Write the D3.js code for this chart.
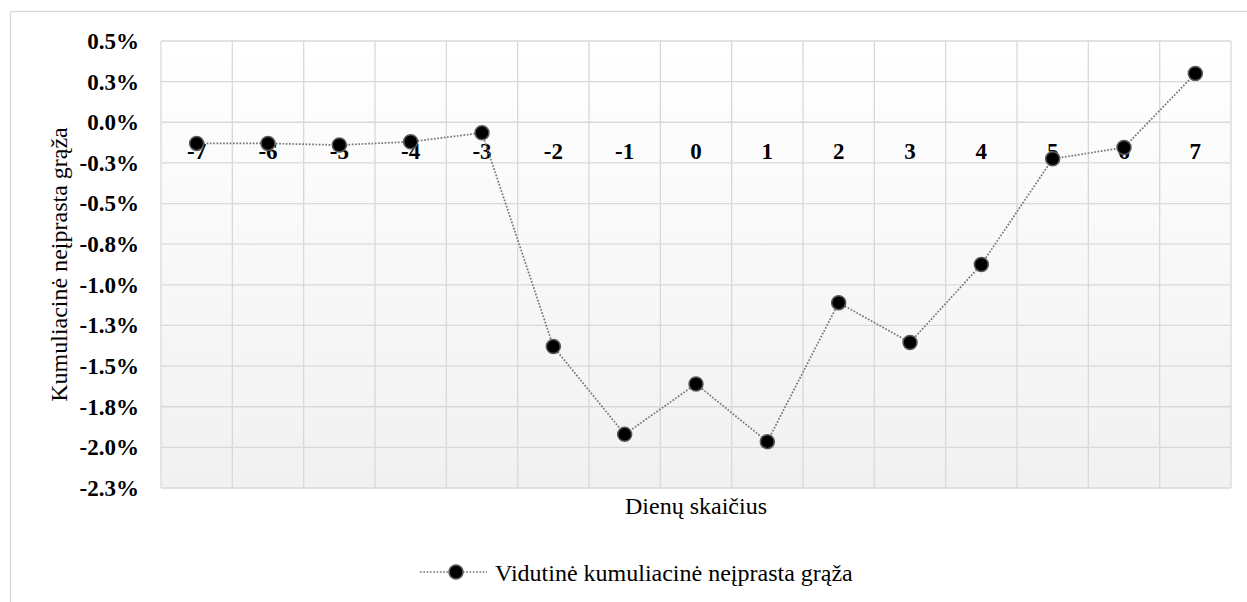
<!DOCTYPE html>
<html>
<head>
<meta charset="utf-8">
<script src="https://cdn.jsdelivr.net/npm/d3@7"></script>
<style>
  body { margin: 0; background: #fff; }
  svg { display: block; font-family: "Liberation Serif", "Tinos", "Times New Roman", "DejaVu Serif", serif; }
  .axis path { display: none; }
  .axis line { display: none; }
  .y.axis text, .x.axis text { font-weight: bold; fill: #000; }
</style>
</head>
<body>
<div id="chart"></div>
<script>
// Event window days and mean cumulative abnormal return (in %)
const days = [-7, -6, -5, -4, -3, -2, -1, 0, 1, 2, 3, 4, 5, 6, 7];
const returns = [-0.13, -0.13, -0.14, -0.12, -0.065, -1.38, -1.92, -1.61, -1.965, -1.11, -1.355, -0.875, -0.225, -0.155, 0.30];

const yTickValues = [0.5, 0.25, 0, -0.25, -0.5, -0.75, -1.0, -1.25, -1.5, -1.75, -2.0, -2.25];
const yTickLabels = ["0.5%", "0.3%", "0.0%", "-0.3%", "-0.5%", "-0.8%", "-1.0%", "-1.3%", "-1.5%", "-1.8%", "-2.0%", "-2.3%"];

const seriesName = "Vidutinė kumuliacinė neįprasta grąža";
const yTitle = "Kumuliacinė neįprasta grąža";
const xTitle = "Dienų skaičius";

const W = 1247, H = 602;
const margin = {top: 41, left: 161, right: 16, bottom: 114};
const width = W - margin.left - margin.right;
const height = H - margin.top - margin.bottom;

const svg = d3.select("#chart").append("svg")
    .attr("width", W)
    .attr("height", H);

// outer chart border (runs off the right and bottom edges)
svg.append("rect")
    .attr("x", 10.5).attr("y", 11.5)
    .attr("width", 1300).attr("height", 700)
    .attr("fill", "#fff")
    .attr("stroke", "#d9d9d9")
    .attr("stroke-width", 1.3);

const grad = svg.append("defs").append("linearGradient")
    .attr("id", "plotbg")
    .attr("x1", 0).attr("y1", 0).attr("x2", 0).attr("y2", 1);
grad.append("stop").attr("offset", "0%").attr("stop-color", "#ffffff");
grad.append("stop").attr("offset", "100%").attr("stop-color", "#f1f1f1");

const g = svg.append("g")
    .attr("transform", `translate(${margin.left},${margin.top})`);

const x = d3.scaleBand()
    .domain(days)
    .range([0, width]);

const y = d3.scaleLinear()
    .domain([-2.25, 0.5])
    .range([height, 0]);

// plot background
g.append("rect")
    .attr("width", width)
    .attr("height", height)
    .attr("fill", "url(#plotbg)");

// horizontal gridlines
g.append("g")
    .selectAll("line")
    .data(yTickValues)
    .join("line")
    .attr("x1", 0).attr("x2", width)
    .attr("y1", d => y(d)).attr("y2", d => y(d))
    .attr("stroke", "#d9d9d9")
    .attr("stroke-width", 1.3);

// vertical gridlines at category boundaries
g.append("g")
    .selectAll("line")
    .data(days.map(d => x(d)).concat([width]))
    .join("line")
    .attr("x1", d => d).attr("x2", d => d)
    .attr("y1", 0).attr("y2", height)
    .attr("stroke", "#d9d9d9")
    .attr("stroke-width", 1.3);

// y axis
g.append("g")
    .attr("class", "y axis")
    .call(d3.axisLeft(y)
        .tickValues(yTickValues)
        .tickFormat((d, i) => yTickLabels[i])
        .tickSize(0)
        .tickPadding(22))
    .attr("font-family", null)
    .attr("font-size", 23);

// x axis labels sit at the zero line
g.append("g")
    .attr("class", "x axis")
    .attr("transform", `translate(0,${y(0)})`)
    .call(d3.axisBottom(x)
        .tickSize(0)
        .tickPadding(20))
    .attr("font-family", null)
    .attr("font-size", 23);

// series line
const line = d3.line()
    .x((d, i) => x(days[i]) + x.bandwidth() / 2)
    .y(d => y(d));

g.append("path")
    .attr("d", line(returns))
    .attr("fill", "none")
    .attr("stroke", "#767676")
    .attr("stroke-width", 1.7)
    .attr("stroke-dasharray", "1.7,1.6");

g.append("g")
    .selectAll("circle")
    .data(returns)
    .join("circle")
    .attr("cx", (d, i) => x(days[i]) + x.bandwidth() / 2)
    .attr("cy", d => y(d))
    .attr("r", 7)
    .attr("fill", "#000")
    .attr("stroke", "#595959")
    .attr("stroke-width", 1.5);

// axis titles
svg.append("text")
    .attr("transform", `translate(67,${margin.top + height / 2}) rotate(-90)`)
    .attr("text-anchor", "middle")
    .attr("font-size", 24)
    .text(yTitle);

svg.append("text")
    .attr("x", margin.left + width / 2)
    .attr("y", 514)
    .attr("text-anchor", "middle")
    .attr("font-size", 24)
    .text(xTitle);

// legend
const legend = svg.append("g")
    .attr("transform", "translate(420,572)");

legend.append("line")
    .attr("x1", 0).attr("x2", 67)
    .attr("stroke", "#767676")
    .attr("stroke-width", 1.7)
    .attr("stroke-dasharray", "1.7,1.6");

legend.append("circle")
    .attr("cx", 36)
    .attr("r", 7)
    .attr("fill", "#000")
    .attr("stroke", "#595959")
    .attr("stroke-width", 1.5);

legend.append("text")
    .attr("x", 75)
    .attr("y", 9)
    .attr("font-size", 24)
    .text(seriesName);
</script>
</body>
</html>
